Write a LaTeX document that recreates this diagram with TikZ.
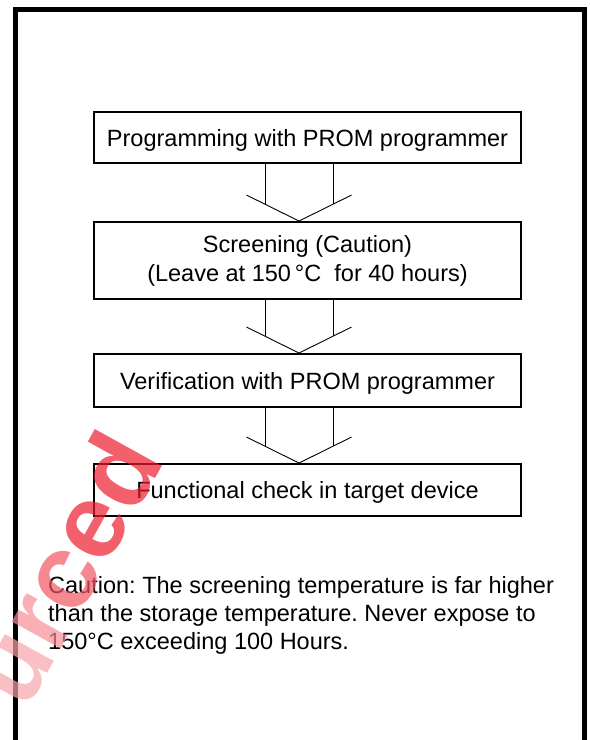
\documentclass[tikz,border=0pt]{standalone}
\usepackage{fontspec}
\setmainfont{Liberation Sans}
\usetikzlibrary{calc}
\definecolor{stampRed}{RGB}{236, 28, 46}
\frenchspacing

\tikzset{
  flowbox/.style={draw, line width=2.4bp, minimum width=427bp, inner sep=0pt,
    align=center, text height=17bp, text depth=0pt},
  flowline/.style={line width=0.9bp},
}
% hollow arrow from the box #1 down to the box #2
\newcommand{\flowarrow}[2]{%
  \draw[flowline] ($(#1.south)+(-42.5,0)$) -- ($(#2.north)+(-42.5,-16.8)$);
  \draw[flowline] ($(#1.south)+(25.5,0)$) -- ($(#2.north)+(25.5,-16.8)$);
  \draw[flowline] ($(#2.north)+(-61,-26)$) -- ($(#2.north)+(-8.5,0)$) -- ($(#2.north)+(44,-26)$);
}

\begin{document}
\begin{tikzpicture}[x=1bp, y=-1bp, font=\fontsize{23.6}{29}\selectfont]
  \useasboundingbox (0,0) rectangle (590,740);
  \clip (0,0) rectangle (590,740);

  % outer frame, open at the bottom
  \draw[line width=5bp] (15,760) -- (15,9.5) -- (584,9.5) -- (584,760);

  \node[flowbox, minimum height=50.5bp] (prog) at (307.5,137.5) {Programming with PROM programmer};
  \node[flowbox, minimum height=76.5bp, text height={}, text depth={}] (screen) at (307.5,260.5)
    {Screening (Caution)\\(Leave at 150\,°C~ for 40 hours)};
  \node[flowbox, minimum height=52.5bp] (verify) at (307.5,380.5) {Verification with PROM programmer};
  \node[flowbox, minimum height=51.5bp] (check) at (307.5,490) {Functional check in target device};

  \flowarrow{prog}{screen}
  \flowarrow{screen}{verify}
  \flowarrow{verify}{check}

  \node[anchor=north west, align=left, inner sep=0pt, font=\fontsize{23.6}{28.5}\selectfont] (note) at (48,575.8)
    {Caution: The screening temperature is far higher\\than the storage temperature. Never expose to\\150°C exceeding 100 Hours.};

  % stamp over the corner
  \node[rotate=61, anchor=base west, inner sep=0pt, opacity=0.7,
    font=\bfseries\fontsize{106}{106}\selectfont] (stamp) at (26,712)
    {\color{stampRed!40}u\color{stampRed!50}r\color{stampRed!75}c\color{stampRed}ed};
\end{tikzpicture}
\end{document}
